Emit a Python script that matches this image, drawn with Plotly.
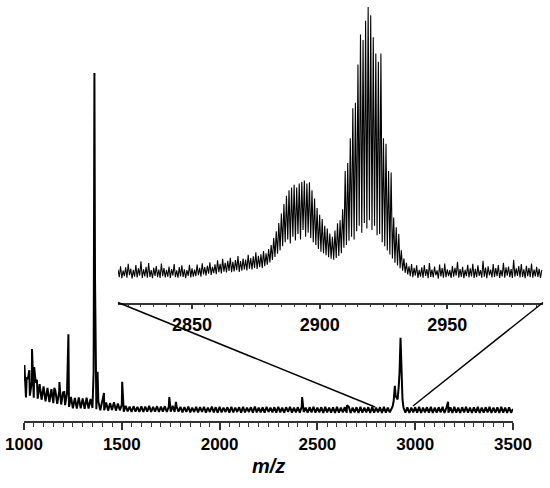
import numpy as np
import plotly.graph_objects as go

# main spectrum, m/z 1000..3500 every 10 (relative intensity, tallest peak = 100)
main_mz = np.arange(1000, 3501, 10)
main_int = [
    9.4, 4.6, 10.0, 5.1, 9.2, 4.5, 8.9, 4.2, 8.5, 3.9,
    7.8, 3.4, 7.4, 3.2, 7.0, 2.9, 6.7, 2.7, 6.4, 2.5,
    6.1, 2.3, 5.9, 1.8, 4.7, 1.4, 4.4, 1.3, 4.6, 1.4,
    4.3, 1.2, 4.5, 1.3, 4.1, 1.5, 100.0, 1.1, 3.5, 0.8,
    3.3, 0.8, 3.1, 0.7, 2.9, 0.9, 3.2, 0.7, 2.8, 0.8,
    2.4, 0.4, 2.1, 0.5, 1.9, 0.3, 2.0, 0.4, 1.8, 0.3,
    2.0, 0.3, 1.9, 0.4, 2.1, 0.3, 1.8, 0.4, 2.0, 0.3,
    1.9, 0.4, 2.0, 0.3, 1.8, 0.4, 2.1, 0.3, 1.9, 0.4,
    1.8, 0.2, 1.7, 0.3, 1.9, 0.2, 1.6, 0.3, 1.8, 0.2,
    1.7, 0.3, 1.8, 0.1, 1.6, 0.3, 1.9, 0.2, 1.7, 0.1,
    1.8, 0.2, 1.6, 0.3, 1.7, 0.1, 1.8, 0.2, 1.6, 0.3,
    1.7, 0.1, 1.8, 0.2, 1.6, 0.3, 1.7, 0.1, 1.9, 0.2,
    1.6, 0.2, 1.7, 0.1, 1.8, 0.3, 1.6, 0.2, 1.7, 0.1,
    1.8, 0.2, 1.6, 0.1, 1.7, 0.3, 1.8, 0.1, 1.6, 0.2,
    1.7, 0.1, 1.9, 0.3, 1.6, 0.1, 1.7, 0.2, 1.8, 0.1,
    1.6, 0.2, 1.7, 0.0, 1.8, 0.2, 1.6, 0.1, 1.7, 0.0,
    1.8, 0.1, 1.6, 0.2, 1.7, 0.1, 1.9, 0.0, 1.6, 0.2,
    1.7, 0.0, 1.8, 0.1, 1.6, 0.2, 1.7, 0.0, 1.8, 0.1,
    1.6, 0.2, 1.7, 0.0, 1.8, 0.1, 1.6, 0.2, 1.4, 3.6,
    5.0, 4.0, 12.0, 9.0, 1.6, 0.1, 1.7, 0.0, 1.6, 0.2,
    1.7, 0.1, 1.8, 0.0, 1.6, 0.2, 1.7, 0.1, 1.8, 0.0,
    1.6, 0.1, 1.7, 0.2, 1.8, 0.0, 1.6, 0.1, 1.7, 0.0,
    1.8, 0.1, 1.6, 0.0, 1.7, 0.2, 1.8, 0.1, 1.6, 0.0,
    1.7, 0.1, 1.8, 0.0, 1.6, 0.1, 1.7, 0.2, 1.8, 0.0,
    1.6, 0.1, 1.7, 0.0, 1.8, 0.1, 1.6, 0.0, 1.7, 0.1,
    1.2,
]

# sharp peaks between the grid points
peak_mz = [1002, 1014, 1027, 1041, 1052, 1066, 1155, 1181, 1206, 1227,
           1356, 1358, 1363, 1366, 1376, 1409, 1502, 1743, 1777, 2422,
           2651, 2885, 2896, 2905, 2916, 2925, 2935, 3168]
peak_int = [14.1, 10.5, 12.6, 18.8, 13.5, 9.8, 7.4, 9.1, 6.2, 23.2,
            12.0, 50.0, 40.0, 9.0, 12.1, 5.9, 9.2, 4.7, 3.3, 4.7,
            2.3, 2.0, 8.0, 4.2, 8.0, 22.1, 4.0, 3.3]

# inset, 2821..2987: tops at whole m/z, valleys at half m/z
inset_top = [
    4.0, 5.2, 3.6, 4.8, 6.1, 4.3, 3.9, 5.6, 4.4, 7.0,
    4.1, 5.0, 6.4, 3.8, 4.6, 5.3, 4.0, 6.2, 4.5, 3.9,
    5.1, 4.2, 6.0, 3.7, 4.9, 5.5, 4.1, 3.8, 5.7, 4.4,
    4.0, 5.8, 4.6, 6.3, 4.9, 5.4, 6.6, 5.0, 5.9, 7.4,
    6.1, 7.9, 6.5, 7.2, 8.3, 6.8, 7.5, 8.9, 7.1, 8.0,
    7.6, 9.4, 8.2, 8.8, 10.3, 9.0, 9.6, 10.8, 9.9, 11.5,
    13.0, 15.5, 18.0, 21.0, 24.5, 28.0, 31.0, 33.0, 34.0, 35.0,
    34.0, 35.5, 36.0, 36.6, 35.5, 35.9, 33.0, 30.0, 26.5, 24.0,
    22.5, 20.0, 19.0, 17.2, 16.0, 18.3, 20.9, 22.0, 26.0, 40.0,
    43.0, 52.0, 63.0, 65.0, 79.0, 90.0, 88.0, 95.0, 100.0, 97.0,
    89.0, 83.0, 80.0, 83.0, 52.0, 50.0, 40.0, 39.5, 23.0, 19.5,
    17.0, 11.0, 8.0, 6.5, 5.2, 6.0, 4.6, 5.5, 3.9, 4.8,
    5.6, 4.2, 6.4, 4.0, 5.1, 3.7, 5.8, 4.5, 6.2, 4.1,
    3.8, 5.3, 4.6, 6.8, 4.2, 5.0, 3.9, 5.7, 4.4, 6.1,
    4.3, 5.5, 3.8, 7.2, 4.7, 5.2, 4.0, 6.0, 4.5, 5.6,
    3.9, 6.5, 4.8, 5.1, 4.2, 7.6, 4.4, 5.3, 6.0, 4.1,
    5.4, 4.6, 6.2, 4.0, 5.0, 4.3, 3.8,
]
inset_low = [
    1.2, 0.8, 1.6, 1.0, 1.9, 0.7, 1.4, 1.1, 1.8, 0.9,
    1.5, 1.0, 1.3, 0.8, 1.7, 1.2, 0.9, 1.6, 1.1, 1.4,
    0.9, 1.8, 1.2, 1.0, 1.5, 1.3, 0.8, 1.7, 1.1, 1.4,
    1.6, 1.9, 1.4, 2.2, 1.8, 2.5, 2.0, 2.7, 2.3, 3.0,
    2.6, 3.2, 2.9, 3.5, 3.0, 3.3, 3.8, 3.1, 3.6, 4.0,
    3.7, 4.3, 4.0, 4.6, 4.2, 4.9, 4.5, 5.2, 5.8, 6.6,
    7.5, 8.6, 9.8, 11.0, 12.5, 14.0, 15.0, 13.5, 16.0, 14.6,
    17.0, 15.0, 18.5, 16.0, 17.5, 15.5, 14.0, 13.0, 11.5, 10.5,
    10.0, 9.2, 8.5, 8.0, 7.6, 8.2, 9.0, 10.0, 12.0, 13.0,
    14.5, 16.0, 15.0, 18.0, 20.0, 17.5, 21.0, 19.0, 22.0, 18.5,
    20.0, 16.5, 17.0, 14.0, 12.5, 11.0, 9.5, 8.0, 6.5, 5.5,
    4.5, 3.6, 2.8, 2.2, 1.6, 1.2, 1.8, 0.9, 1.4, 1.0,
    1.7, 0.8, 1.3, 1.1, 1.9, 0.7, 1.5, 1.0, 1.2, 1.6,
    0.9, 1.4, 1.8, 1.0, 1.3, 0.8, 1.6, 1.1, 1.5, 0.9,
    1.2, 1.7, 1.0, 1.4, 0.8, 1.9, 1.1, 1.3, 1.6, 0.9,
    1.5, 1.0, 1.8, 1.2, 0.9, 1.4, 1.7, 1.1, 1.3, 0.8,
    1.6, 1.2, 1.0, 1.5, 1.3, 0.9,
]
inset_start = 2821

# merge grid + peaks
mx = np.concatenate([main_mz, peak_mz])
my = np.concatenate([main_int, peak_int])
order = np.argsort(mx, kind="stable")
mx, my = mx[order], my[order]

top_mz = inset_start + np.arange(len(inset_top))
low_mz = top_mz[:-1] + 0.5
ix = np.empty(len(inset_top) + len(inset_low))
iy = np.empty_like(ix)
ix[0::2], iy[0::2] = top_mz, inset_top
ix[1::2], iy[1::2] = low_mz, inset_low

W, H = 550, 488
FONT = "Arial, Liberation Sans, sans-serif"


def px(x):
    return x / W


def py(y):
    return (H - y) / H


fig = go.Figure()
fig.add_trace(go.Scatter(x=mx, y=my, mode="lines",
                         line=dict(color="black", width=2),
                         xaxis="x", yaxis="y", hoverinfo="skip"))
fig.add_trace(go.Scatter(x=ix, y=iy, mode="lines",
                         line=dict(color="black", width=1.1),
                         xaxis="x2", yaxis="y2", hoverinfo="skip"))

axis_style = dict(showline=True, linecolor="#333", linewidth=1.5,
                  ticks="outside", tickcolor="#333", tickwidth=1.5,
                  showgrid=False, zeroline=False, automargin=False,
                  ticklabeloverflow="allow")

fig.update_layout(
    width=W, height=H, autosize=False,
    margin=dict(l=0, r=0, t=0, b=0, pad=0, autoexpand=False),
    paper_bgcolor="white", plot_bgcolor="rgba(0,0,0,0)",
    showlegend=False,
    xaxis=dict(domain=[px(24), px(513)], range=[1000, 3500], anchor="y",
               tick0=1000, dtick=500, ticklen=7,
               minor=dict(dtick=50, ticks="outside", ticklen=4,
                          tickwidth=1.2, tickcolor="#333"),
               tickfont=dict(family=FONT, size=17, color="black", weight="bold"),
               **axis_style),
    yaxis=dict(domain=[py(421), 1], range=[-2.35, 121.5],
               visible=False, automargin=False),
    xaxis2=dict(domain=[px(118), px(543)], range=[2821, 2987.5], anchor="y2",
                tick0=2850, dtick=50, ticklen=5,
                minor=dict(dtick=5, ticks="outside", ticklen=3,
                           tickwidth=1.2, tickcolor="#333"),
                tickfont=dict(family=FONT, size=18, color="black", weight="bold"),
                **axis_style),
    yaxis2=dict(domain=[py(302.5), 1], range=[-8.06, 102.6],
                visible=False, anchor="x2", automargin=False),
)

# zoom lines from the inset axis down to the main spectrum
fig.add_shape(type="line", xref="paper", yref="paper",
              x0=px(118), y0=py(302.5), x1=px(375), y1=py(407),
              line=dict(color="black", width=1.5))
fig.add_shape(type="line", xref="paper", yref="paper",
              x0=px(543), y0=py(302.5), x1=px(413), y1=py(406),
              line=dict(color="black", width=1.5))

fig.add_annotation(text="<b><i>m/z</i></b>", xref="paper", yref="paper",
                   x=px(268.5), y=py(466), showarrow=False,
                   xanchor="center", yanchor="middle",
                   font=dict(family=FONT, size=20, color="black"))

# drop the browser's default 8px body margin so the figure sits at 0,0
fig.write_html("out.html", config={"displayModeBar": False},
               post_script="document.body.style.margin='0';")
